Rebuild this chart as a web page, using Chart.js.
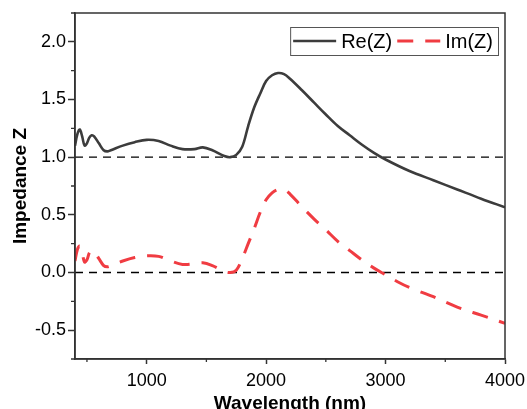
<!DOCTYPE html>
<html>
<head>
<meta charset="utf-8">
<script src="https://cdn.jsdelivr.net/npm/chart.js@4/dist/chart.umd.min.js"></script>
<style>
  html, body { margin: 0; padding: 0; background: #fff; }
  canvas { display: block; }
</style>
</head>
<body>
<canvas id="c" width="527" height="409"></canvas>
<script>
// ---- data ----
const reWavelength = [400, 420, 440, 460, 480, 500, 520, 540, 560, 600, 640, 670, 700, 800, 900, 1000, 1100, 1200, 1300, 1400, 1470, 1550, 1650, 1700, 1750, 1800, 1850, 1900, 1950, 2000, 2050, 2100, 2150, 2200, 2300, 2400, 2500, 2600, 2700, 2800, 2900, 3000, 3200, 3400, 3600, 3800, 4000];
const reValues     = [1.10, 1.20, 1.24, 1.18, 1.10, 1.12, 1.17, 1.19, 1.18, 1.12, 1.06, 1.05, 1.06, 1.10, 1.13, 1.15, 1.14, 1.10, 1.07, 1.07, 1.085, 1.06, 1.01, 1.00, 1.02, 1.09, 1.27, 1.43, 1.55, 1.66, 1.71, 1.73, 1.72, 1.68, 1.58, 1.475, 1.37, 1.27, 1.19, 1.11, 1.04, 0.98, 0.88, 0.80, 0.72, 0.64, 0.565];

const imWavelength = [400, 420, 440, 460, 480, 500, 520, 540, 560, 600, 640, 670, 700, 800, 900, 1000, 1100, 1200, 1300, 1400, 1470, 1550, 1650, 1700, 1750, 1800, 1850, 1900, 1950, 2000, 2050, 2100, 2150, 2200, 2300, 2400, 2500, 2600, 2700, 2800, 2900, 3000, 3100, 3200, 3400, 3600, 3800, 4000];
const imValues     = [0.10, 0.20, 0.23, 0.17, 0.09, 0.11, 0.17, 0.19, 0.18, 0.12, 0.06, 0.05, 0.06, 0.10, 0.13, 0.145, 0.14, 0.10, 0.07, 0.075, 0.085, 0.06, 0.01, 0.00, 0.02, 0.12, 0.25, 0.38, 0.52, 0.63, 0.69, 0.72, 0.72, 0.68, 0.57, 0.465, 0.37, 0.27, 0.19, 0.11, 0.04, -0.02, -0.08, -0.13, -0.21, -0.30, -0.37, -0.44];

const seriesLabels = ['Re(Z)', 'Im(Z)'];
const referenceLevels = [1.0, 0.0];
const xRange = [400, 4000];
const yRange = [-0.75, 2.25];
const xMajorTicks = [1000, 2000, 3000, 4000];
const xMinorTicks = [500, 1500, 2500, 3500];
const yMajorTicks = [-0.5, 0.0, 0.5, 1.0, 1.5, 2.0];
const yMinorTicks = [-0.75, -0.25, 0.25, 0.75, 1.25, 1.75, 2.25];
const xTitle = 'Wavelength (nm)';
const yTitle = 'Impedance Z';

// ---- build datasets ----
const toPoints = (xs, ys) => xs.map((x, i) => ({ x: x, y: ys[i] }));
const FONT = "'Liberation Sans', Arial, Helvetica, sans-serif";
const AXIS = '#333333';

const datasets = [
  {
    label: seriesLabels[0],
    data: toPoints(reWavelength, reValues),
    borderColor: '#3c3c3c',
    borderWidth: 2.6,
    pointRadius: 0,
    tension: 0.35,
    fill: false,
    order: 1
  },
  {
    label: seriesLabels[1],
    data: toPoints(imWavelength, imValues),
    borderColor: '#f03c42',
    borderWidth: 3,
    borderDash: [16, 12],
    pointRadius: 0,
    tension: 0.35,
    fill: false,
    order: 2
  }
];
referenceLevels.forEach(level => {
  datasets.push({
    label: '',
    isReference: true,
    data: toPoints(xRange, [level, level]),
    borderColor: '#000000',
    borderWidth: 1.3,
    borderDash: [8, 6],
    pointRadius: 0,
    fill: false,
    order: 3
  });
});

// ---- plugins: frame, minor ticks, in-plot legend ----
const framePlugin = {
  id: 'frame',
  afterDraw(chart) {
    const { ctx, chartArea: a, scales } = chart;
    ctx.save();
    ctx.strokeStyle = AXIS;
    ctx.lineWidth = 1.5;
    ctx.strokeRect(a.left, a.top, a.right - a.left, a.bottom - a.top);
    ctx.lineWidth = 1.3;
    ctx.beginPath();
    xMinorTicks.forEach(v => {
      const px = scales.x.getPixelForValue(v);
      ctx.moveTo(px, a.bottom);
      ctx.lineTo(px, a.bottom + 3);
    });
    yMinorTicks.forEach(v => {
      const py = scales.y.getPixelForValue(v);
      ctx.moveTo(a.left, py);
      ctx.lineTo(a.left - 4, py);
    });
    ctx.stroke();
    ctx.restore();
  }
};

const legendPlugin = {
  id: 'boxLegend',
  afterDraw(chart) {
    const { ctx, chartArea: a } = chart;
    const items = chart.data.datasets.filter(d => !d.isReference);
    ctx.save();
    ctx.font = '20px ' + FONT;
    ctx.textBaseline = 'middle';
    const sampleW = 43, gap = 5, pad = 3;
    let width = pad;
    items.forEach((d, i) => {
      width += sampleW + gap + ctx.measureText(d.label).width + (i < items.length - 1 ? gap : pad + 2);
    });
    const h = 28;
    const right = a.right - 7;
    const left = right - width;
    const top = a.top + 14;
    const cy = top + h / 2;
    ctx.strokeStyle = '#555555';
    ctx.lineWidth = 1;
    ctx.strokeRect(left + 0.5, top + 0.5, width, h);
    let x = left + pad;
    items.forEach(d => {
      ctx.beginPath();
      ctx.strokeStyle = d.borderColor;
      ctx.lineWidth = d.borderWidth;
      ctx.setLineDash(d.borderDash || []);
      ctx.moveTo(x, cy);
      ctx.lineTo(x + sampleW, cy);
      ctx.stroke();
      ctx.setLineDash([]);
      x += sampleW + gap;
      ctx.fillStyle = '#000000';
      ctx.fillText(d.label, x, cy + 1);
      x += ctx.measureText(d.label).width + gap;
    });
    ctx.restore();
  }
};

new Chart(document.getElementById('c'), {
  type: 'line',
  data: { datasets: datasets },
  options: {
    responsive: false,
    animation: false,
    devicePixelRatio: 1,
    layout: { padding: { left: 0, right: 22, top: 13, bottom: 0 } },
    plugins: { legend: { display: false }, tooltip: { enabled: false } },
    elements: { line: { borderCapStyle: 'butt' } },
    scales: {
      x: {
        type: 'linear',
        min: xRange[0],
        max: xRange[1],
        afterBuildTicks: s => { s.ticks = xMajorTicks.map(v => ({ value: v })); },
        afterFit: s => { s.height = 50; s.paddingLeft = 0; s.paddingRight = 0; },
        grid: { drawOnChartArea: false, drawTicks: true, tickLength: 5, tickColor: AXIS, tickWidth: 1.5 },
        border: { display: true, color: AXIS, width: 1.5 },
        ticks: {
          autoSkip: false, maxRotation: 0, padding: 6, color: '#000000',
          font: { family: FONT, size: 18 },
          callback: v => String(v)
        },
        title: {
          display: true, text: xTitle, color: '#000000',
          font: { family: FONT, size: 19, weight: 'bold', lineHeight: 1 },
          padding: { top: 0, bottom: -4 }
        }
      },
      y: {
        type: 'linear',
        min: yRange[0],
        max: yRange[1],
        afterBuildTicks: s => { s.ticks = yMajorTicks.map(v => ({ value: v })); },
        afterFit: s => { s.width = 75; s.paddingTop = 0; s.paddingBottom = 0; },
        grid: { drawOnChartArea: false, drawTicks: true, tickLength: 7, tickColor: AXIS, tickWidth: 1.5 },
        border: { display: true, color: AXIS, width: 1.5 },
        ticks: {
          autoSkip: false, padding: 2, color: '#000000',
          font: { family: FONT, size: 18 },
          callback: v => Number(v).toFixed(1)
        },
        title: {
          display: true, text: yTitle, color: '#000000',
          font: { family: FONT, size: 19, weight: 'bold', lineHeight: 1 },
          padding: { top: 11.5, bottom: 0 }
        }
      }
    }
  },
  plugins: [framePlugin, legendPlugin]
});
</script>
</body>
</html>
